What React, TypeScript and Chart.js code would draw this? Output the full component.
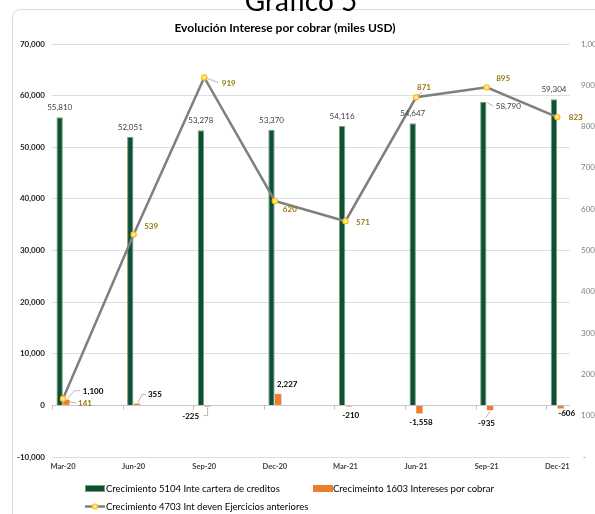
import React, { useEffect, useRef } from "react";
import { Chart, registerables } from "chart.js";

Chart.register(...registerables);

// ---- data ----
const periods = ["Mar-20", "Jun-20", "Sep-20", "Dec-20", "Mar-21", "Jun-21", "Sep-21", "Dec-21"];
const carteraGrowth = [55810, 52051, 53278, 53370, 54116, 54647, 58790, 59304];
const interesesGrowth = [1100, 355, -225, 2227, -210, -1558, -935, -606];
const ejerciciosGrowth = [141, 539, 919, 620, 571, 871, 895, 823];
const seriesNames = [
  "Crecimiento 5104 Inte cartera de creditos",
  "Crecimeinto 1603 Intereses por cobrar",
  "Crecimiento 4703 Int deven Ejercicios anteriores",
];
const pageTitle = "Grafico 5";
const chartTitle = "Evolución Interese por cobrar (miles USD)";

// ---- style ----
const FONT = "Lato, 'Open Sans', sans-serif";
const GREEN = "#0b4f3c";
const GREEN_EDGE = "#7ea35c";
const ORANGE = "#ed7d31";
const LINE_GRAY = "#7f7f7f";
const MARKER = "#ffc000";
const LINE_LABEL = "#9a7812";
const LEADER = "#a6a6a6";

// label placement: [dx, dy, align, leader polyline relative to anchor or null]
type Place = [number, number, CanvasTextAlign, number[][] | null];
const greenPlace: Place[] = [
  [0, -9.5, "center", null],
  [0, -9.5, "center", null],
  [0, -9.5, "center", null],
  [0, -9.5, "center", null],
  [0, -9.5, "center", null],
  [0, -9.5, "center", null],
  [12.5, 5, "left", [[4, 1], [10, 4]]],
  [0, -9.5, "center", null],
];
const orangePlace: Place[] = [
  [16.5, -8, "left", [[1, -1], [8, -9], [14, -9]]],
  [11, -9, "left", [[1, -1], [5, -9], [9, -9]]],
  [-8.5, 9.5, "right", [[0, 1], [0, 9], [-4, 9]]],
  [9, -9.5, "center", null],
  [2, 9, "center", null],
  [1.5, 9, "center", null],
  [-3.5, 13.5, "center", [[0, 1], [-4, 7]]],
  [6, 4.5, "center", null],
];
const linePlace: Place[] = [
  [15, 5, "left", [[6, 3], [13, 4]]],
  [10.5, -7.5, "left", null],
  [17.5, 5.5, "left", [[3, 1], [14, 5]]],
  [8, 8, "left", null],
  [10.5, 0.8, "left", null],
  [1, -10, "left", [[2, -2], [6, -5]]],
  [9.5, -8.5, "left", null],
  [11.5, 0.8, "left", null],
];

const fmt = (v: number) => v.toLocaleString("en-US");

function drawLeader(ctx: CanvasRenderingContext2D, ax: number, ay: number, pts: number[][] | null) {
  if (!pts) return;
  ctx.save();
  ctx.strokeStyle = LEADER;
  ctx.lineWidth = 0.8;
  ctx.beginPath();
  pts.forEach((p, k) => {
    if (k === 0) ctx.moveTo(ax + p[0], ay + p[1]);
    else ctx.lineTo(ax + p[0], ay + p[1]);
  });
  ctx.stroke();
  ctx.restore();
}

function drawLabel(
  ctx: CanvasRenderingContext2D,
  text: string,
  ax: number,
  ay: number,
  place: Place,
  font: string,
  color: string
) {
  drawLeader(ctx, ax, ay, place[3]);
  ctx.save();
  ctx.font = font;
  ctx.fillStyle = color;
  ctx.textAlign = place[2];
  ctx.textBaseline = "middle";
  ctx.fillText(text, ax + place[0], ay + place[1]);
  ctx.restore();
}

const decorPlugin = {
  id: "decor",
  beforeDraw(chart: any) {
    const ctx: CanvasRenderingContext2D = chart.ctx;
    ctx.save();
    ctx.fillStyle = "#ffffff";
    ctx.fillRect(0, 0, chart.width, chart.height);
    // outer frame
    ctx.strokeStyle = "#d9d9d9";
    ctx.lineWidth = 1;
    ctx.beginPath();
    ctx.roundRect(12.5, 9.5, 700, 600, 8);
    ctx.stroke();
    // page heading
    ctx.fillStyle = "#000000";
    ctx.font = `28px ${FONT}`;
    ctx.textAlign = "center";
    ctx.textBaseline = "alphabetic";
    ctx.fillText(pageTitle, 301, 11);
    // chart title
    ctx.font = `bold 12px ${FONT}`;
    ctx.textBaseline = "middle";
    ctx.fillText(chartTitle, 285, 28);
    ctx.restore();
  },
  beforeDatasetsDraw(chart: any) {
    const ctx: CanvasRenderingContext2D = chart.ctx;
    const x = chart.scales.x;
    const y = chart.scales.y;
    const y0 = Math.round(y.getPixelForValue(0)) + 0.5;
    ctx.save();
    ctx.strokeStyle = "#bfbfbf";
    ctx.lineWidth = 1;
    ctx.beginPath();
    for (let i = 0; i <= periods.length; i++) {
      const px = Math.round(x.getPixelForValue(x.min + i)) + 0.5;
      ctx.moveTo(px, y0);
      ctx.lineTo(px, y0 + 4);
    }
    ctx.stroke();
    ctx.restore();
  },
  afterDatasetsDraw(chart: any) {
    const ctx: CanvasRenderingContext2D = chart.ctx;
    const greenMeta = chart.getDatasetMeta(0);
    const orangeMeta = chart.getDatasetMeta(1);
    const lineMeta = chart.getDatasetMeta(2);
    greenMeta.data.forEach((bar: any, i: number) => {
      drawLabel(ctx, fmt(carteraGrowth[i]), bar.x, bar.y, greenPlace[i], `8px ${FONT}`, "#404040");
    });
    orangeMeta.data.forEach((bar: any, i: number) => {
      drawLabel(ctx, fmt(interesesGrowth[i]), bar.x, bar.y, orangePlace[i], `bold 8px ${FONT}`, "#000000");
    });
    lineMeta.data.forEach((pt: any, i: number) => {
      drawLabel(ctx, fmt(ejerciciosGrowth[i]), pt.x, pt.y, linePlace[i], `bold 8px ${FONT}`, LINE_LABEL);
    });
  },
  afterDraw(chart: any) {
    const ctx: CanvasRenderingContext2D = chart.ctx;
    ctx.save();
    ctx.font = `9.5px ${FONT}`;
    ctx.textBaseline = "middle";
    ctx.textAlign = "left";
    // row 1: bar series
    const r1 = 488.5;
    ctx.fillStyle = GREEN;
    ctx.fillRect(85, r1 - 3.5, 20, 7);
    ctx.strokeStyle = GREEN_EDGE;
    ctx.lineWidth = 1;
    ctx.strokeRect(85.5, r1 - 3, 19, 6);
    ctx.fillStyle = "#000000";
    ctx.fillText(seriesNames[0], 106, r1);
    ctx.fillStyle = ORANGE;
    ctx.fillRect(313, r1 - 3.5, 20, 7);
    ctx.fillStyle = "#000000";
    ctx.fillText(seriesNames[1], 333, r1);
    // row 2: line series
    const r2 = 506.5;
    ctx.strokeStyle = LINE_GRAY;
    ctx.lineWidth = 2.5;
    ctx.beginPath();
    ctx.moveTo(85, r2);
    ctx.lineTo(105, r2);
    ctx.stroke();
    ctx.beginPath();
    ctx.arc(95, r2, 2.5, 0, Math.PI * 2);
    ctx.fillStyle = "#ffe699";
    ctx.fill();
    ctx.strokeStyle = MARKER;
    ctx.lineWidth = 1.2;
    ctx.stroke();
    ctx.fillStyle = "#000000";
    ctx.fillText(seriesNames[2], 106, r2);
    ctx.restore();
  },
};

export default function App() {
  const canvasRef = useRef<HTMLCanvasElement | null>(null);

  useEffect(() => {
    const canvas = canvasRef.current;
    if (!canvas) return;
    const chart = new Chart(canvas, {
      type: "bar",
      data: {
        datasets: [
          {
            type: "bar",
            label: seriesNames[0],
            data: carteraGrowth.map((v, i) => ({ x: i, y: v })),
            backgroundColor: GREEN,
            borderColor: GREEN_EDGE,
            borderWidth: 1,
            yAxisID: "y",
            order: 2,
            categoryPercentage: 0.19,
            barPercentage: 0.95,
          },
          {
            type: "bar",
            label: seriesNames[1],
            data: interesesGrowth.map((v, i) => ({ x: i, y: v })),
            backgroundColor: ORANGE,
            borderWidth: 0,
            yAxisID: "y",
            order: 2,
            categoryPercentage: 0.19,
            barPercentage: 0.95,
          },
          {
            type: "line",
            label: seriesNames[2],
            data: ejerciciosGrowth.map((v, i) => ({ x: i, y: v })),
            borderColor: LINE_GRAY,
            borderWidth: 2.5,
            pointRadius: 2.6,
            pointBackgroundColor: "#ffe699",
            pointBorderColor: MARKER,
            pointBorderWidth: 1.2,
            tension: 0,
            yAxisID: "y1",
            order: 1,
          } as any,
        ],
      },
      options: {
        responsive: false,
        animation: false,
        devicePixelRatio: 1,
        layout: { padding: { top: 44, bottom: 37, left: 0, right: 0 } },
        plugins: {
          legend: { display: false },
          tooltip: { enabled: false },
          title: { display: false },
        },
        scales: {
          x: {
            type: "linear",
            bounds: "data",
            offset: false,
            min: -0.156,
            max: 7.18,
            afterBuildTicks: (s: any) => {
              s.ticks = periods.map((_, i) => ({ value: i }));
            },
            ticks: {
              autoSkip: false,
              maxRotation: 0,
              padding: 5,
              color: "#404040",
              font: { family: FONT, size: 7.5, weight: "bold" },
              callback: (v: any) => periods[v as number] ?? "",
            },
            grid: { display: false, drawTicks: false, offset: false },
            border: { display: false },
            afterFit: (s: any) => {
              s.height = 20;
            },
          },
          y: {
            position: "left",
            min: -10000,
            max: 70000,
            ticks: {
              stepSize: 10000,
              padding: 7,
              color: "#262626",
              font: { family: FONT, size: 8, weight: "bold" },
              callback: (v: any) => fmt(v as number),
            },
            grid: {
              drawTicks: false,
              color: (c: any) => (c.tick && c.tick.value === 0 ? "#c8c8c8" : "#dedede"),
            },
            border: { display: false },
            afterFit: (s: any) => {
              s.width = 52;
            },
          },
          y1: {
            position: "right",
            min: 0,
            max: 1000,
            ticks: {
              stepSize: 100,
              padding: 11,
              color: "#7f7f7f",
              font: { family: FONT, size: 8 },
              callback: (v: any) => (v === 0 ? " -" : fmt(v as number)),
            },
            grid: { display: false, drawTicks: false },
            border: { display: false },
            afterFit: (s: any) => {
              s.width = 25;
            },
          },
        },
      } as any,
      plugins: [decorPlugin],
    });
    return () => chart.destroy();
  }, []);

  return (
    <div style={{ position: "absolute", left: 0, top: 0, width: 595, height: 514 }}>
      <canvas ref={canvasRef} width={595} height={514} style={{ display: "block" }} />
    </div>
  );
}
